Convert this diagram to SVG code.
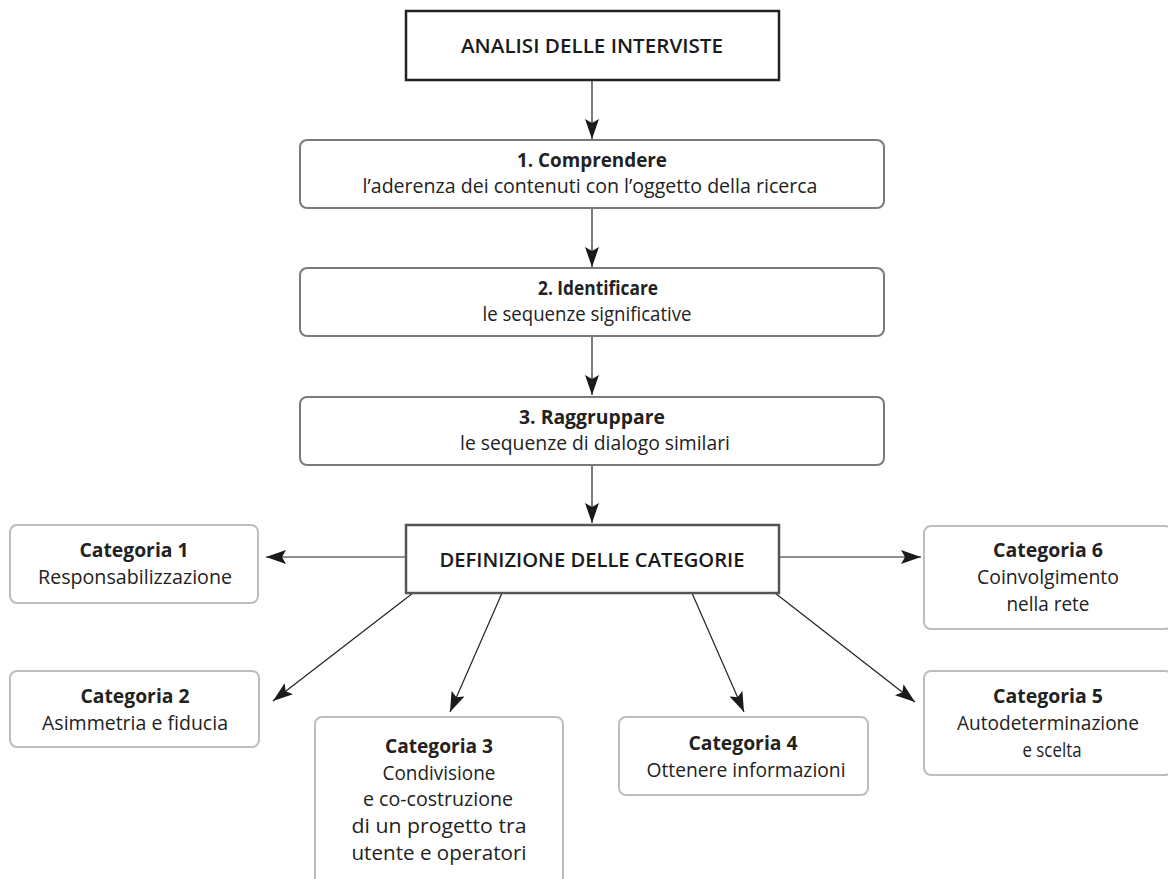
<svg xmlns="http://www.w3.org/2000/svg" width="1168" height="879" viewBox="0 0 1168 879">
<style>
  text { font-family: "Open Sans", "Noto Sans", "Liberation Sans", sans-serif; fill: #222; text-anchor: middle; font-size: 19.5px; }
  .b { font-weight: bold; }
  .h { font-weight: 600; font-size: 20px; fill: #1a1a1a; }
  .main { fill: #fff; stroke: #222; stroke-width: 2.5; }
  .def { fill: #fff; stroke: #555; stroke-width: 2.5; }
  .step { fill: #fff; stroke: #7a7a7a; stroke-width: 2; }
  .cat { fill: #fff; stroke: #bdbdbd; stroke-width: 2; }
  .conn { stroke: #222; stroke-width: 1.2; fill: none; marker-end: url(#ah); }
</style>
<defs>
  <marker id="ah" viewBox="0 0 20 14" refX="20" refY="7" markerWidth="20" markerHeight="14" markerUnits="userSpaceOnUse" orient="auto">
    <path d="M0,0 L20,7 L0,14 L4,7 Z" fill="#1a1a1a"/>
  </marker>
</defs>
<rect width="1168" height="879" fill="#fff"/>

<g id="connectors">
  <line class="conn" x1="592" y1="81" x2="592" y2="139"/>
  <line class="conn" x1="592" y1="208" x2="592" y2="267"/>
  <line class="conn" x1="592" y1="336" x2="592" y2="395"/>
  <line class="conn" x1="592" y1="465" x2="592" y2="523"/>
  <line class="conn" x1="406" y1="557" x2="266" y2="557"/>
  <line class="conn" x1="779" y1="557" x2="921" y2="557"/>
  <line class="conn" x1="413" y1="593" x2="273" y2="701"/>
  <line class="conn" x1="502" y1="593" x2="450" y2="712"/>
  <line class="conn" x1="692" y1="593" x2="744" y2="712"/>
  <line class="conn" x1="775" y1="593" x2="915" y2="702"/>
</g>

<g id="analisi">
  <rect class="main" x="406" y="11" width="373" height="69"/>
  <text class="h" x="592" y="53" textLength="262" lengthAdjust="spacingAndGlyphs">ANALISI DELLE INTERVISTE</text>
</g>

<g id="step1">
  <rect class="step" x="300" y="140" width="584" height="68" rx="7"/>
  <text class="b" x="592" y="167" textLength="150" lengthAdjust="spacingAndGlyphs">1. Comprendere</text>
  <text x="590" y="193" textLength="455" lengthAdjust="spacingAndGlyphs">l’aderenza dei contenuti con l’oggetto della ricerca</text>
</g>

<g id="step2">
  <rect class="step" x="300" y="268" width="584" height="68" rx="7"/>
  <text class="b" x="598" y="295" textLength="120" lengthAdjust="spacingAndGlyphs">2. Identificare</text>
  <text x="587" y="321" textLength="209" lengthAdjust="spacingAndGlyphs">le sequenze significative</text>
</g>

<g id="step3">
  <rect class="step" x="300" y="397" width="584" height="68" rx="7"/>
  <text class="b" x="592" y="424" textLength="146" lengthAdjust="spacingAndGlyphs">3. Raggruppare</text>
  <text x="595" y="450" textLength="270" lengthAdjust="spacingAndGlyphs">le sequenze di dialogo similari</text>
</g>

<g id="definizione">
  <rect class="def" x="406" y="525" width="373" height="68"/>
  <text class="h" x="592" y="567" textLength="305" lengthAdjust="spacingAndGlyphs">DEFINIZIONE DELLE CATEGORIE</text>
</g>

<g id="cat1">
  <rect class="cat" x="10" y="525" width="248" height="78" rx="7"/>
  <text class="b" x="134" y="557" textLength="109" lengthAdjust="spacingAndGlyphs">Categoria 1</text>
  <text x="135" y="584" textLength="194" lengthAdjust="spacingAndGlyphs">Responsabilizzazione</text>
</g>

<g id="cat2">
  <rect class="cat" x="10" y="671" width="249" height="76" rx="7"/>
  <text class="b" x="135" y="703" textLength="109" lengthAdjust="spacingAndGlyphs">Categoria 2</text>
  <text x="135" y="730" textLength="186" lengthAdjust="spacingAndGlyphs">Asimmetria e fiducia</text>
</g>

<g id="cat3">
  <rect class="cat" x="315" y="717" width="248" height="190" rx="7"/>
  <text class="b" x="439" y="753" textLength="108" lengthAdjust="spacingAndGlyphs">Categoria 3</text>
  <text x="439" y="780" textLength="113" lengthAdjust="spacingAndGlyphs">Condivisione</text>
  <text x="438" y="806" textLength="150" lengthAdjust="spacingAndGlyphs">e co-costruzione</text>
  <text x="439" y="833" textLength="175" lengthAdjust="spacingAndGlyphs">di un progetto tra</text>
  <text x="439" y="860" textLength="175" lengthAdjust="spacingAndGlyphs">utente e operatori</text>
</g>

<g id="cat4">
  <rect class="cat" x="619" y="717" width="249" height="78" rx="7"/>
  <text class="b" x="743" y="750" textLength="109" lengthAdjust="spacingAndGlyphs">Categoria 4</text>
  <text x="746" y="777" textLength="199" lengthAdjust="spacingAndGlyphs">Ottenere informazioni</text>
</g>

<g id="cat5">
  <rect class="cat" x="924" y="671" width="248" height="104" rx="7"/>
  <text class="b" x="1048" y="703" textLength="110" lengthAdjust="spacingAndGlyphs">Categoria 5</text>
  <text x="1048" y="730" textLength="182" lengthAdjust="spacingAndGlyphs">Autodeterminazione</text>
  <text x="1052" y="757" textLength="59" lengthAdjust="spacingAndGlyphs">e scelta</text>
</g>

<g id="cat6">
  <rect class="cat" x="924" y="526" width="248" height="103" rx="7"/>
  <text class="b" x="1048" y="557" textLength="110" lengthAdjust="spacingAndGlyphs">Categoria 6</text>
  <text x="1048" y="584" textLength="142" lengthAdjust="spacingAndGlyphs">Coinvolgimento</text>
  <text x="1048" y="611" textLength="83" lengthAdjust="spacingAndGlyphs">nella rete</text>
</g>
</svg>
